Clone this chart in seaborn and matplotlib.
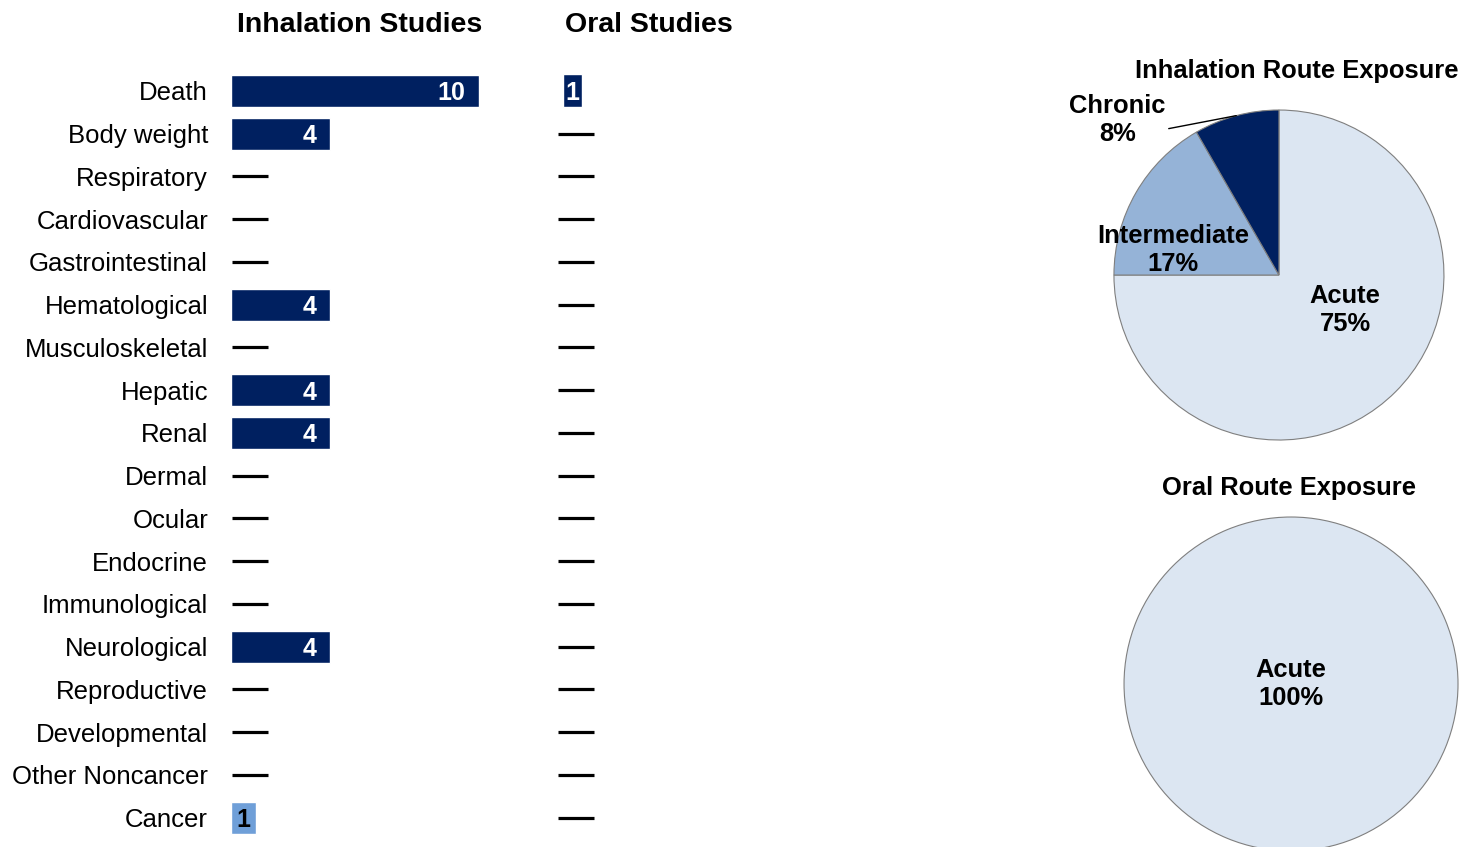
import seaborn as sns
import matplotlib.pyplot as plt
import numpy as np
import pandas as pd

sns.set_style('white')
plt.rcParams['font.family'] = ['Liberation Sans', 'DejaVu Sans']
plt.rcParams['text.color'] = 'black'
plt.rcParams['ytick.color'] = 'black'
plt.rcParams['ytick.labelcolor'] = 'black'

# data
categories = ['Death', 'Body weight', 'Respiratory', 'Cardiovascular', 'Gastrointestinal',
              'Hematological', 'Musculoskeletal', 'Hepatic', 'Renal', 'Dermal', 'Ocular',
              'Endocrine', 'Immunological', 'Neurological', 'Reproductive', 'Developmental',
              'Other Noncancer', 'Cancer']
inhalation_counts = [10, 4, 0, 0, 0, 4, 0, 4, 4, 0, 0, 0, 0, 4, 0, 0, 0, 1]
oral_counts = [1, 0, 0, 0, 0, 0, 0, 0, 0, 0, 0, 0, 0, 0, 0, 0, 0, 0]

duration_labels = ['Acute', 'Intermediate', 'Chronic']
inhalation_duration = [9, 2, 1]
oral_duration = [1]

navy = '#002060'
cancer_blue = '#6f9fd8'
pie_colors = ['#dce6f2', '#95b3d7', '#002060']

df = pd.DataFrame({'endpoint': categories,
                   'inhalation': inhalation_counts,
                   'oral': oral_counts})
bar_colors = {c: (cancer_blue if c == 'Cancer' else navy) for c in categories}

fig = plt.figure(figsize=(14.63, 8.47), dpi=100)

# --- bar panels ---
ax1 = fig.add_axes([0.1579, 0.0094, 0.1975, 0.9086])
ax2 = fig.add_axes([0.3848, 0.0094, 0.0684, 0.9086])


def draw_panel(ax, col, xmax, dash_x, width, show_labels):
    sns.barplot(data=df, x=col, y='endpoint', hue='endpoint', palette=bar_colors,
                orient='h', width=width, saturation=1, legend=False, ax=ax)
    ax.set_xlim(0, xmax)
    ax.set_ylim(len(categories) - 0.5, -0.5)
    ax.set_xlabel('')
    ax.set_ylabel('')
    ax.set_xticks([])
    sns.despine(ax=ax, left=True, bottom=True)
    ax.tick_params(axis='y', length=0, pad=16.5, labelsize=18.5, labelcolor='black')
    if not show_labels:
        ax.set_yticklabels([])
    vals = df[col].values
    for i, v in enumerate(vals):
        txt_color = 'black' if categories[i] == 'Cancer' else 'white'
        if v > 1:
            ax.annotate(str(v), (v, i), xytext=(-10, 0), textcoords='offset points',
                        ha='right', va='center_baseline', fontsize=18, fontweight='bold',
                        color=txt_color)
        elif v == 1:
            ax.annotate(str(v), (v / 2, i), ha='center', va='center_baseline',
                        fontsize=18, fontweight='bold', color=txt_color)
    zero_idx = np.where(vals == 0)[0]
    ax.plot(np.full(len(zero_idx), dash_x), zero_idx, ls='none', marker='_',
            ms=26.6, mew=2.3, color='black', clip_on=False)


draw_panel(ax1, 'inhalation', 11.65, 0.746, 0.75, True)
draw_panel(ax2, 'oral', 5.13, 0.69, 0.77, False)

fig.text(359.5 / 1463, 1 - 25 / 847, 'Inhalation Studies', ha='center', va='center',
         fontsize=20.5, fontweight='bold')
fig.text(648.5 / 1463, 1 - 25 / 847, 'Oral Studies', ha='center', va='center',
         fontsize=20.5, fontweight='bold')

# --- pies ---
wedge_kw = dict(edgecolor='#7f7f7f', linewidth=0.8)

ax3 = fig.add_axes([0.7614, 0.4805, 0.2256, 0.3896])
wedges, _ = ax3.pie(inhalation_duration, colors=pie_colors, startangle=90,
                    counterclock=False, radius=1, wedgeprops=wedge_kw)
ax3.set_xlim(-1, 1)
ax3.set_ylim(-1, 1)
ax3.set_aspect('equal')
ax3.axis('off')
total = sum(inhalation_duration)
pct = [f'{round(100 * v / total)}%' for v in inhalation_duration]
ax3.text(0.40, -0.21, f'Acute\n{pct[0]}', ha='center', va='center', fontsize=18.4,
         fontweight='bold')
ax3.text(-0.64, 0.15, f'Intermediate\n{pct[1]}', ha='center', va='center',
         fontsize=18.4, fontweight='bold')
w = wedges[2]
mid = np.deg2rad((w.theta1 + w.theta2) / 2)
ax3.annotate(f'Chronic\n{pct[2]}', xy=(np.cos(mid), np.sin(mid)), xytext=(-0.98, 0.94),
             ha='center', va='center', fontsize=18.4, fontweight='bold',
             arrowprops=dict(arrowstyle='-', color='black', lw=1, relpos=(1.0, 0.32),
                             shrinkA=0, shrinkB=0),
             annotation_clip=False)

ax4 = fig.add_axes([0.7683, -0.0047, 0.2283, 0.3943])
ax4.pie(oral_duration, colors=pie_colors[:1], startangle=90, counterclock=False,
        radius=1, wedgeprops=wedge_kw)
ax4.set_xlim(-1, 1)
ax4.set_ylim(-1, 1)
ax4.set_aspect('equal')
ax4.axis('off')
ax4.text(0, 0, 'Acute\n100%', ha='center', va='center', fontsize=18.4, fontweight='bold')

fig.text(1296.5 / 1463, 1 - 71 / 847, 'Inhalation Route Exposure', ha='center',
         va='center', fontsize=18.4, fontweight='bold')
fig.text(1289 / 1463, 1 - 488 / 847, 'Oral Route Exposure', ha='center', va='center',
         fontsize=18.4, fontweight='bold')

fig.savefig('out.png', dpi=100)
